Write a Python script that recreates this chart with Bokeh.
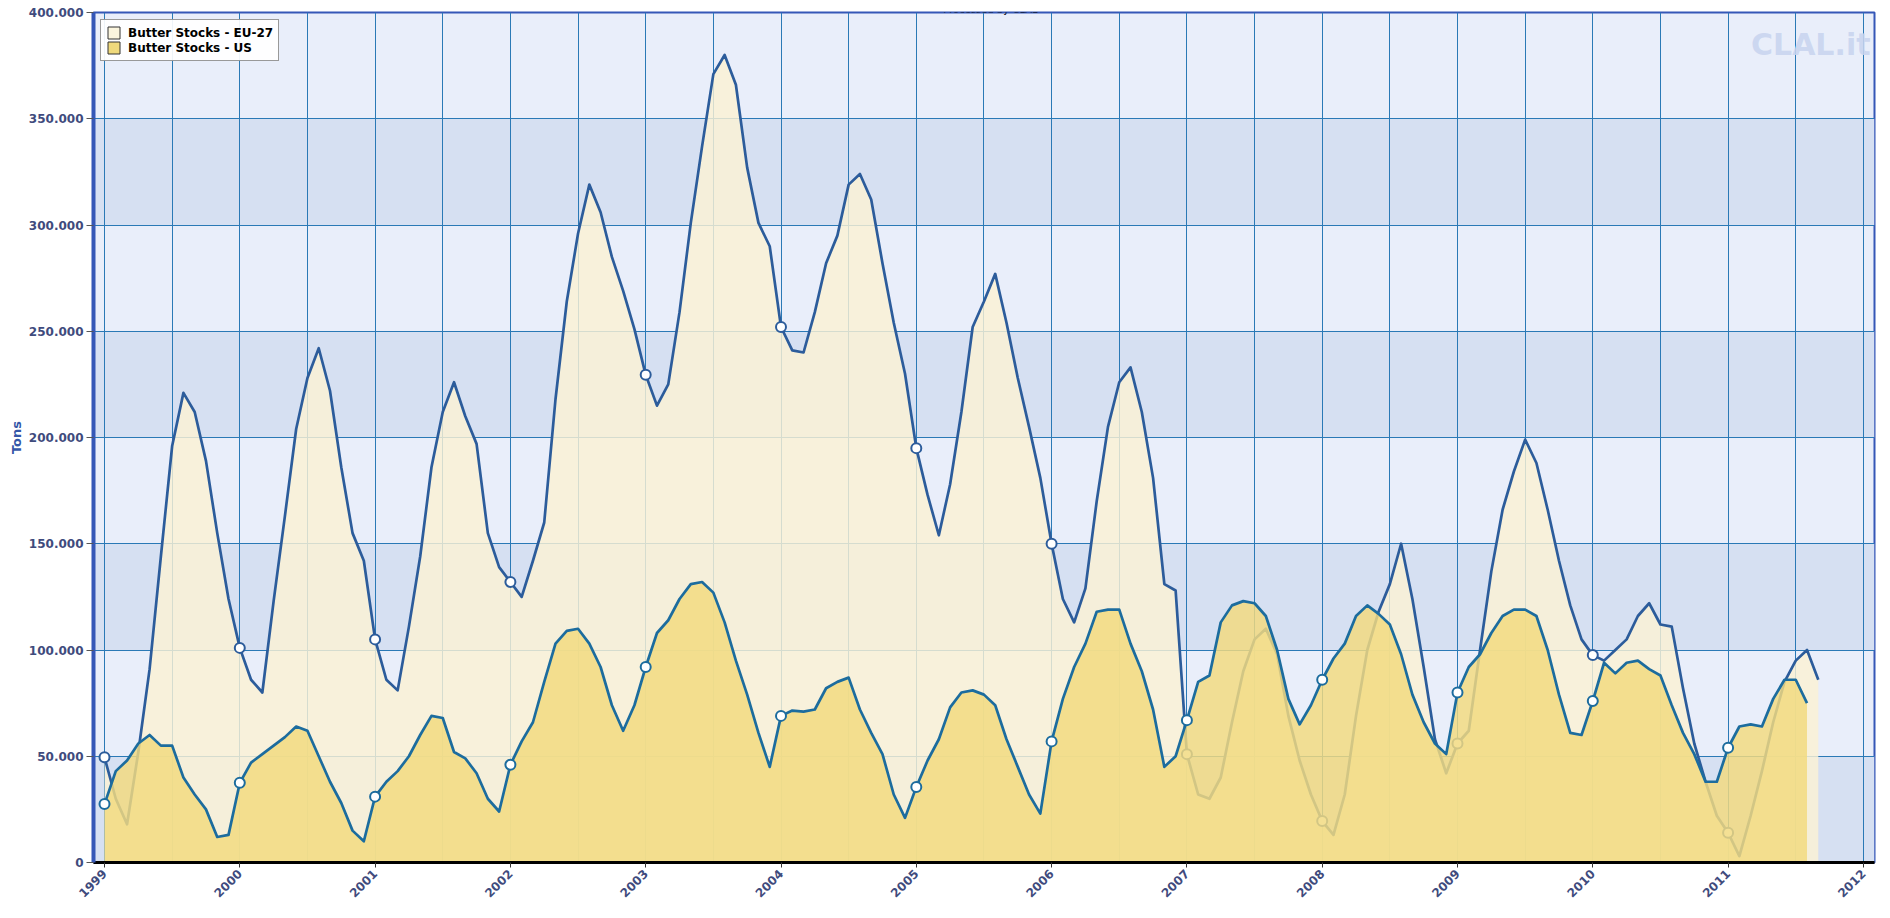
import math
from bokeh.plotting import figure
from bokeh.models import (FixedTicker, Range1d, Legend, LegendItem, Label,
                          BoxAnnotation, CustomJSTickFormatter)
from bokeh.embed import file_html
from bokeh.resources import INLINE

# ---------------- data (tons, monthly, starting January 1999) ----------------
START_YEAR = 1999

eu_27_tons = [
    49500, 30000, 18000, 52000, 91000, 144000, 196000, 221000, 212000, 189000, 155000, 124000,   # 1999
    101000, 86000, 80000, 123000, 163000, 204000, 228000, 242000, 222000, 186000, 155000, 142000,  # 2000
    105000, 86000, 81000, 111000, 144000, 186000, 212000, 226000, 210000, 197000, 155000, 139000,  # 2001
    132000, 125000, 142000, 160000, 218000, 264000, 296000, 319000, 306000, 285000, 269000, 251000,  # 2002
    229500, 215000, 225000, 259000, 301000, 337000, 371000, 380000, 366000, 327000, 301000, 290000,  # 2003
    252000, 241000, 240000, 259000, 282000, 295000, 319000, 324000, 312000, 282000, 254000, 230000,  # 2004
    195000, 173000, 154000, 178000, 212000, 252000, 264000, 277000, 254000, 228000, 205000, 181000,  # 2005
    150000, 124000, 113000, 129000, 170000, 205000, 226000, 233000, 212000, 181000, 131000, 128000,  # 2006
    51000, 32000, 30000, 40000, 66000, 90000, 105000, 110000, 98000, 69000, 48000, 32000,  # 2007
    19500, 13000, 32000, 69000, 100000, 118000, 131000, 150000, 124000, 92000, 58000, 42000,  # 2008
    56000, 62000, 100000, 137000, 166000, 184000, 199000, 188000, 166000, 142000, 121000, 105000,  # 2009
    97600, 95000, 100000, 105000, 116000, 122000, 112000, 111000, 82000, 56000, 38000, 22000,  # 2010
    14000, 3000, 22000, 43000, 66000, 85000, 95000, 100000, 86000,  # 2011
]

us_tons = [
    27500, 43000, 48000, 56000, 60000, 55000, 55000, 40000, 32000, 25000, 12000, 13000,  # 1999
    37500, 47000, 51000, 55000, 59000, 64000, 62000, 50000, 38000, 28000, 15000, 10000,  # 2000
    31000, 38000, 43000, 50000, 60000, 69000, 68000, 52000, 49000, 42000, 30000, 24000,  # 2001
    46000, 57000, 66000, 85000, 103000, 109000, 110000, 103000, 92000, 74000, 62000, 74000,  # 2002
    92000, 108000, 114000, 124000, 131000, 132000, 127000, 113000, 95000, 79000, 61000, 45000,  # 2003
    69000, 71500, 71000, 72000, 82000, 85000, 87000, 72000, 61000, 51000, 32000, 21000,  # 2004
    35500, 48000, 58000, 73000, 80000, 81000, 79000, 74000, 58000, 45000, 32000, 23000,  # 2005
    57000, 77000, 92000, 103000, 118000, 119000, 119000, 103000, 90000, 72000, 45000, 50000,  # 2006
    67000, 85000, 88000, 113000, 121000, 123000, 122000, 116000, 100000, 77000, 65000, 74000,  # 2007
    86000, 96000, 103000, 116000, 121000, 117000, 112000, 98000, 79000, 66000, 56000, 51000,  # 2008
    80000, 92000, 98000, 108000, 116000, 119000, 119000, 116000, 100000, 79000, 61000, 60000,  # 2009
    76000, 94000, 89000, 94000, 95000, 91000, 88000, 74000, 61000, 51000, 38000, 38000,  # 2010
    54000, 64000, 65000, 64000, 77000, 86000, 86000, 75000,  # 2011
]

year_ticks = list(range(1999, 2013))
year_labels = [str(y) for y in year_ticks]
ton_ticks = [0, 50000, 100000, 150000, 200000, 250000, 300000, 350000, 400000]
ton_labels = ["0", "50.000", "100.000", "150.000", "200.000", "250.000",
              "300.000", "350.000", "400.000"]
series_names = ["Butter Stocks - EU-27", "Butter Stocks - US"]

# ---------------- derived positions ----------------
eu_x = [START_YEAR + i / 12 for i in range(len(eu_27_tons))]
us_x = [START_YEAR + i / 12 for i in range(len(us_tons))]
eu_jan_x = [eu_x[i] for i in range(0, len(eu_x), 12)]
eu_jan_y = [eu_27_tons[i] for i in range(0, len(eu_x), 12)]
us_jan_x = [us_x[i] for i in range(0, len(us_x), 12)]
us_jan_y = [us_tons[i] for i in range(0, len(us_x), 12)]
half_years = [year_ticks[0] + 0.5 * k for k in range(2 * (len(year_ticks) - 1) + 1)]

# ---------------- styling ----------------
FONT = "DejaVu Sans"
TICK_COLOR = "#3f4b7d"
AXIS_BLUE = "#3557b7"
GRID_BLUE = "#2a79b6"
EU_LINE = "#2c5c9b"
US_LINE = "#1c6c9e"

px_per_year = 135.3
frame_w, frame_h = 1781, 850
x0 = 1999 - 11 / px_per_year
x1 = x0 + frame_w / px_per_year

p = figure(frame_width=frame_w, frame_height=frame_h,
           min_border_left=93, min_border_right=16, min_border_top=12, min_border_bottom=56,
           x_range=Range1d(x0, x1), y_range=Range1d(ton_ticks[0], ton_ticks[-1]),
           output_backend="svg", toolbar_location=None,
           background_fill_color="#e9eefa", border_fill_color="white")

# alternating horizontal bands
for i in range(len(ton_ticks) - 1):
    if i % 2 == 0:
        p.add_layout(BoxAnnotation(bottom=ton_ticks[i], top=ton_ticks[i + 1],
                                   fill_color="#d6e0f2", fill_alpha=1.0,
                                   line_alpha=0, level="image"))

# grid
p.xgrid.ticker = FixedTicker(ticks=half_years)
p.ygrid.ticker = FixedTicker(ticks=ton_ticks)
for g in (p.xgrid, p.ygrid):
    g.grid_line_color = GRID_BLUE
    g.grid_line_width = 1
    g.grid_line_alpha = 1.0

# EU-27 series
p.varea(x=eu_x, y1=0, y2=eu_27_tons, fill_color="#fbf2d4", fill_alpha=0.82)
p.line(eu_x, eu_27_tons, line_color=EU_LINE, line_width=2.7, line_join="round")
p.scatter(eu_jan_x, eu_jan_y, size=10, fill_color="white", line_color=EU_LINE, line_width=2)

# US series
p.varea(x=us_x, y1=0, y2=us_tons, fill_color="#f2da80", fill_alpha=0.84)
p.line(us_x, us_tons, line_color=US_LINE, line_width=2.7, line_join="round")
p.scatter(us_jan_x, us_jan_y, size=10, fill_color="white", line_color=US_LINE, line_width=2)

# legend swatches (proxy glyphs holding no visible data)
nan = float("nan")
eu_sw = p.quad(left=[nan], right=[nan], top=[nan], bottom=[nan],
               fill_color="#fbf5de", line_color="#333333")
us_sw = p.quad(left=[nan], right=[nan], top=[nan], bottom=[nan],
               fill_color="#efd97c", line_color="#333333")
legend = Legend(items=[LegendItem(label=series_names[0], renderers=[eu_sw]),
                       LegendItem(label=series_names[1], renderers=[us_sw])],
                location="top_left", margin=7, padding=5, spacing=0,
                glyph_width=15, glyph_height=15, label_height=15, label_standoff=7,
                label_text_font=FONT, label_text_font_style="bold",
                label_text_font_size="12px", label_text_color="black",
                border_line_color="#333333", border_line_width=1,
                background_fill_color="white", background_fill_alpha=0.92)
p.add_layout(legend)

# axes
p.yaxis.ticker = FixedTicker(ticks=ton_ticks)
p.yaxis.formatter = CustomJSTickFormatter(args=dict(tvals=ton_ticks, tlabels=ton_labels),
    code="const i = tvals.indexOf(tick); return i >= 0 ? tlabels[i] : '';")
p.xaxis.ticker = FixedTicker(ticks=year_ticks)
p.xaxis.formatter = CustomJSTickFormatter(args=dict(tvals=year_ticks, tlabels=year_labels),
    code="const i = tvals.indexOf(Math.round(tick)); return i >= 0 ? tlabels[i] : '';")

for ax in (p.xaxis[0], p.yaxis[0]):
    ax.major_label_text_font = FONT
    ax.major_label_text_font_style = "bold"
    ax.major_label_text_font_size = "12px"
    ax.major_label_text_color = TICK_COLOR
    ax.minor_tick_line_color = None
    ax.major_tick_in = 0

p.yaxis.axis_line_color = AXIS_BLUE
p.yaxis.axis_line_width = 4
p.yaxis.major_tick_line_color = "#555555"
p.yaxis.major_tick_out = 7
p.yaxis.major_label_standoff = 3
p.yaxis.axis_label = "Tons"
p.yaxis.axis_label_text_font = FONT
p.yaxis.axis_label_text_font_style = "bold"
p.yaxis.axis_label_text_font_size = "13px"
p.yaxis.axis_label_text_color = "#3557a8"
p.yaxis.axis_label_standoff = 2

p.xaxis.axis_line_color = "black"
p.xaxis.axis_line_width = 3
p.xaxis.major_tick_line_color = "#333333"
p.xaxis.major_tick_out = 5
p.xaxis.major_label_standoff = 4
p.xaxis.major_label_orientation = math.pi / 4

p.outline_line_color = AXIS_BLUE
p.outline_line_width = 2
p.outline_line_alpha = 1.0

y_per_px = (ton_ticks[-1] - ton_ticks[0]) / frame_h

# watermark (inside the frame, top right)
p.add_layout(Label(x=x1 - 4 / px_per_year, y=ton_ticks[-1] - 32 * y_per_px,
                   text="CLAL.it", text_font=FONT, text_font_style="bold",
                   text_font_size="30px", text_color="#c8d4ef", text_alpha=0.9,
                   text_baseline="alphabetic", text_align="right"))

# title at very top
p.add_layout(Label(x=x0 + (990 - 93) / px_per_year, y=ton_ticks[-1] + 3 * y_per_px,
                   text="Processed by CLAL", text_font=FONT, text_font_size="10px",
                   text_color="black", text_align="center", text_baseline="alphabetic"))

# "Years" axis caption at bottom right
p.add_layout(Label(x=x0 + (1855 - 93) / px_per_year, y=-45 * y_per_px,
                   text="Years", text_font=FONT, text_font_style="bold",
                   text_font_size="13px", text_color="#3557a8",
                   text_align="center", text_baseline="alphabetic"))

open("out.html", "w").write(file_html(p, INLINE))
